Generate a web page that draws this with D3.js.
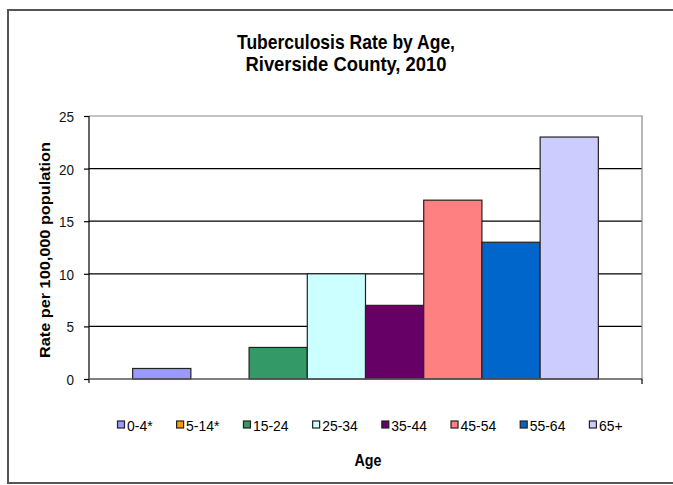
<!DOCTYPE html>
<html><head><meta charset="utf-8">
<script src="https://cdn.jsdelivr.net/npm/d3@7"></script>
<style>
body{margin:0;background:#fff;}
text{font-family:"Liberation Sans",Arial,sans-serif;}
</style></head>
<body><svg id="c" width="673" height="485"></svg>
<script>
const categories = ["0-4*","5-14*","15-24","25-34","35-44","45-54","55-64","65+"];
const values = [1,0,3,10,7,17,13,23];
const colors = ["#9999FF","#FF9900","#339966","#CCFFFF","#660066","#FF8080","#0066CC","#CCCCFF"];
const yTicks = [0,5,10,15,20,25];
const titleLines = ["Tuberculosis Rate by Age,","Riverside County, 2010"];
const yLabel = "Rate per 100,000  population";
const xLabel = "Age";

const svg = d3.select("#c");
// outer frame
svg.append("rect").attr("x",8).attr("y",10).attr("width",700).attr("height",473)
  .attr("fill","#fff").attr("stroke","#555").attr("stroke-width",2);

const L=89, R=642, T=116, B=379;
const y = d3.scaleLinear().domain([0,25]).range([B,T]);
const x = d3.scaleBand().domain(categories).range([L+(R-L)*1.5/19, R-(R-L)*1.5/19]).padding(0);

// gridlines
svg.append("g").selectAll("line").data(yTicks.filter(d=>d>0 && d<25)).join("line")
  .attr("x1",L).attr("x2",R).attr("y1",d=>y(d)).attr("y2",d=>y(d))
  .attr("stroke","#000").attr("stroke-width",1.2);
// plot border top/right
svg.append("path").attr("d",`M${L},${y(25)}H${R}V${B}`).attr("fill","none").attr("stroke","#888").attr("stroke-width",1.2);

// bars
svg.append("g").selectAll("rect").data(categories).join("rect")
  .attr("x",d=>x(d)).attr("width",x.bandwidth())
  .attr("y",(d,i)=>y(values[i])).attr("height",(d,i)=>B-y(values[i]))
  .attr("fill",(d,i)=>colors[i]).attr("stroke",(d,i)=>values[i]>0?"#222":"none").attr("stroke-width",1.2);

// y axis
const yAxis = d3.axisLeft(y).tickValues(yTicks).tickSize(5).tickPadding(10).tickFormat(d3.format("d"));
const ga = svg.append("g").attr("transform",`translate(${L},0)`).call(yAxis);
ga.select(".domain").attr("stroke","#000").attr("stroke-width",1.2).attr("d",`M0,${T}V${B+4}`);
ga.selectAll(".tick line").attr("stroke","#000").attr("stroke-width",1.2);
ga.selectAll(".tick text").attr("font-family","'Liberation Sans',Arial,sans-serif").attr("font-size",15).attr("fill","#111").attr("dy","0.36em")
  .each(function(){ const n=this; n.setAttribute("textLength", n.getComputedTextLength()*0.9); n.setAttribute("lengthAdjust","spacingAndGlyphs"); });
// x axis line
svg.append("line").attr("x1",L).attr("x2",R).attr("y1",B).attr("y2",B).attr("stroke","#555").attr("stroke-width",1.5);
svg.append("line").attr("x1",R).attr("x2",R).attr("y1",B).attr("y2",B+5).attr("stroke","#000").attr("stroke-width",1.2);

// title
const titleW = [218, 201];
svg.append("g").selectAll("text").data(titleLines).join("text")
  .attr("x",346).attr("y",(d,i)=>48.5+i*22).attr("text-anchor","middle")
  .attr("font-size",21).attr("font-weight","bold").attr("fill","#000")
  .attr("textLength",(d,i)=>titleW[i]).attr("lengthAdjust","spacingAndGlyphs").text(d=>d);

// y label
svg.append("text").attr("transform","translate(50,250) rotate(-90)").attr("text-anchor","middle")
  .attr("font-size",15).attr("font-weight","bold")
  .attr("textLength",216).attr("lengthAdjust","spacingAndGlyphs").text(yLabel);
// x label
svg.append("text").attr("x",368).attr("y",466).attr("text-anchor","middle")
  .attr("font-size",16).attr("font-weight","bold")
  .attr("textLength",27).attr("lengthAdjust","spacingAndGlyphs").text(xLabel);

// legend
const lg = svg.append("g");
let lx = 117;
categories.forEach((c,i)=>{
  const g = lg.append("g").attr("transform",`translate(${lx},0)`);
  g.append("rect").attr("x",0.5).attr("y",421).attr("width",7).attr("height",7).attr("fill",colors[i]).attr("stroke","#222").attr("stroke-width",1.2);
  const t = g.append("text").attr("x",10).attr("y",430.5).attr("font-size",15).text(c);
  const w = t.node().getComputedTextLength()*0.93;
  t.attr("textLength",w).attr("lengthAdjust","spacingAndGlyphs");
  lx += 10 + w + 23.5;
});
</script></body></html>
